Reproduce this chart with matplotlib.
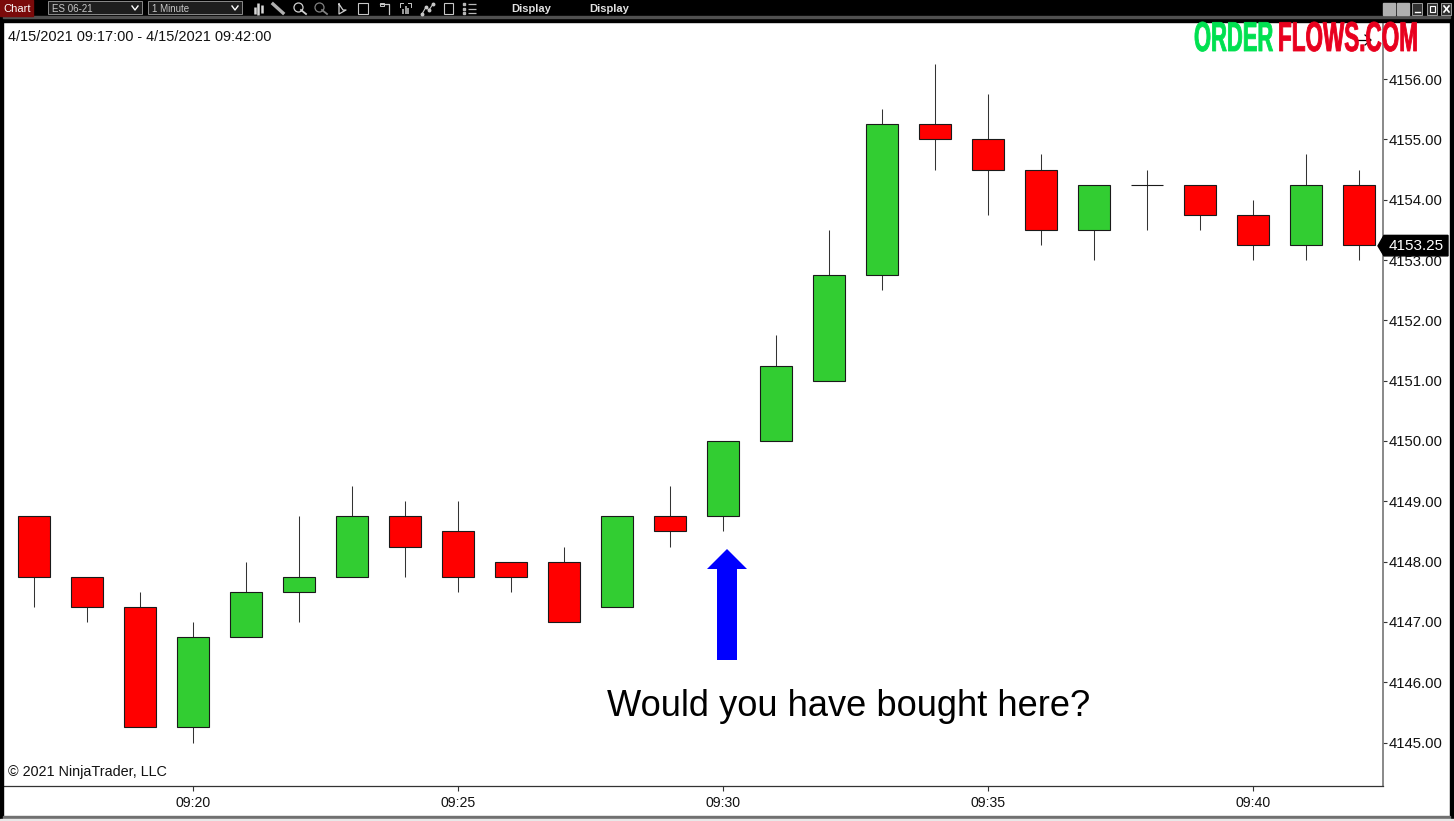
import matplotlib
matplotlib.use("Agg")
import matplotlib.pyplot as plt
import matplotlib.patheffects as pe
from matplotlib.patches import Polygon, Rectangle
from matplotlib.transforms import Affine2D

plt.rcParams["font.family"] = ["Liberation Sans", "DejaVu Sans"]

opens = [4148.75, 4147.75, 4147.25, 4145.25, 4146.75, 4147.5, 4147.75, 4148.75, 4148.5,
         4148.0, 4148.0, 4147.25, 4148.75, 4148.75, 4150.0, 4151.0, 4152.75, 4155.25,
         4155.0, 4154.5, 4153.5, 4154.25, 4154.25, 4153.75, 4153.25, 4154.25]
highs = [4148.75, 4147.75, 4147.5, 4147.0, 4148.0, 4148.75, 4149.25, 4149.0, 4149.0,
         4148.0, 4148.25, 4148.75, 4149.25, 4150.0, 4151.75, 4153.5, 4155.5, 4156.25,
         4155.75, 4154.75, 4154.25, 4154.5, 4154.25, 4154.0, 4154.75, 4154.5]
lows = [4147.25, 4147.0, 4145.25, 4145.0, 4146.75, 4147.0, 4147.75, 4147.75, 4147.5,
        4147.5, 4147.0, 4147.25, 4148.25, 4148.5, 4150.0, 4151.0, 4152.5, 4154.5,
        4153.75, 4153.25, 4153.0, 4153.5, 4153.5, 4153.0, 4153.0, 4153.0]
closes = [4147.75, 4147.25, 4145.25, 4146.75, 4147.5, 4147.75, 4148.75, 4148.25, 4147.75,
          4147.75, 4147.0, 4148.75, 4148.5, 4150.0, 4151.25, 4152.75, 4155.25, 4155.0,
          4154.5, 4153.5, 4154.25, 4154.25, 4153.75, 4153.25, 4154.25, 4153.25]

price_ticks = [4145, 4146, 4147, 4148, 4149, 4150, 4151, 4152, 4153, 4154, 4155, 4156]
time_ticks = [3, 8, 13, 18, 23]
time_labels = ["09:20", "09:25", "09:30", "09:35", "09:40"]
last_price = 4153.25

W, H = 1454, 821
GREEN = "#32CD32"
RED = "#FF0000"


class Reshape(pe.AbstractPathEffect):
    # tall narrow logo lettering, matplotlib has no condensed stretch of its own
    def __init__(self, sx, sy, x0, y0):
        super().__init__()
        self.shape = Affine2D().translate(-x0, -y0).scale(sx, sy).translate(x0, y0)

    def draw_path(self, renderer, gc, tpath, affine, rgbFace=None):
        gc.set_foreground(rgbFace)
        gc.set_linewidth(0.6)
        renderer.draw_path(gc, tpath, affine + self.shape, rgbFace)


fig = plt.figure(figsize=(W / 100, H / 100), dpi=100, facecolor="white")

# price panel, placed in pixels
ax = fig.add_axes([3 / W, 1 - 786 / H, 1380 / W, 763 / H])
ax.set_xlim(-0.585, 25.45)
ax.set_ylim(4144.28, 4156.929)

xs = list(range(len(opens)))
colors = [GREEN if c > o else RED for o, c in zip(opens, closes)]
bottoms = [min(o, c) for o, c in zip(opens, closes)]
heights = [abs(c - o) for o, c in zip(opens, closes)]
ax.vlines(xs, lows, highs, color="#333333", lw=0.75, zorder=2)
ax.bar(xs, heights, bottom=bottoms, width=0.604, color=colors, edgecolor="#1A1A1A",
       linewidth=0.8, zorder=3)

ax.yaxis.tick_right()
ax.set_yticks(price_ticks)
ax.set_yticklabels([f"{p:.2f}" for p in price_ticks], fontsize=10.7, color="#111111")
ax.set_xticks(time_ticks)
ax.set_xticklabels(time_labels, fontsize=10.2, color="#111111")
ax.tick_params(axis="y", length=3, width=0.8, pad=1.2, color="#333333")
ax.tick_params(axis="x", length=3.5, width=0.8, pad=4, color="#333333")
for side in ["left", "top"]:
    ax.spines[side].set_visible(False)
ax.spines["right"].set_color("#808080")
ax.spines["right"].set_linewidth(1.3)
ax.spines["bottom"].set_color("#333333")
ax.spines["bottom"].set_linewidth(0.9)

# overlay in pixel coordinates for the window chrome and annotations
ov = fig.add_axes([0, 0, 1, 1], facecolor="none")
ov.set_xlim(0, W)
ov.set_ylim(H, 0)
ov.axis("off")

ov.add_patch(Rectangle((0, 0), W, 22, color="black"))
ov.add_patch(Rectangle((0, 0), 3, H, color="black"))
ov.add_patch(Rectangle((1449.5, 0), 3.5, 819, color="black"))
ov.add_patch(Rectangle((3, 816.5), 1447, 2.5, color="#707070"))
ov.add_patch(Rectangle((0, 819), W, 2, color="#E8E8E8"))
ov.add_patch(Rectangle((3, 16.5), 1447, 1.5, color="#505050"))

ov.add_patch(Rectangle((0, 0), 33, 16, color="#7A0A0A"))
ov.text(3, 8.5, "Chart", color="white", fontsize=8, va="center")
for x0, label in [(48, "ES 06-21"), (148, "1 Minute")]:
    ov.add_patch(Rectangle((x0, 1.5), 94, 13, facecolor="#1E1E1E", edgecolor="#8A8A8A", lw=0.7))
    ov.text(x0 + 4, 8.5, label, color="#C8C8C8", fontsize=7, va="center")
    ov.plot([x0 + 84, x0 + 87, x0 + 90], [6, 10, 6], color="white", lw=1)
ov.text(511, 8.5, "Display", color="#E0E0E0", fontsize=8, fontweight="bold", va="center")
ov.text(589, 8.5, "Display", color="#E0E0E0", fontsize=8, fontweight="bold", va="center")

# toolbar icons, only rough shapes
ov.vlines([254.5, 258, 261.5], [7, 3, 5], [14, 15, 13], color="#D8D8D8", lw=1.8)
ov.plot([273, 283], [4, 13], color="#B0B0B0", lw=2.4)
for cx, col in [(298, "#D0D0D0"), (319, "#808080")]:
    ov.plot([cx], [7], marker="o", ms=6.5, mfc="none", mec=col, mew=0.9)
    ov.plot([cx + 3, cx + 8], [10, 14], color=col, lw=1.3)
ov.plot([339, 339, 346, 343, 339], [4, 14, 10, 10, 4], color="#D0D0D0", lw=0.9)
for x0, w in [(358, 10), (444, 9)]:
    ov.add_patch(Rectangle((x0, 3.5), w, 11, fill=False, edgecolor="#C8C8C8", lw=0.8))
ov.plot([380, 389, 389], [4, 4, 14], color="#C8C8C8", lw=0.9)
ov.add_patch(Rectangle((380, 3), 4, 3, fill=False, edgecolor="#C8C8C8", lw=0.7))
ov.vlines([403, 405.5, 408], [9, 6, 8], 14, color="#C8C8C8", lw=1.1)
ov.plot([400, 400, 403], [7, 3.5, 3.5], color="#C8C8C8", lw=0.7)
ov.plot([408, 411, 411], [3.5, 3.5, 7], color="#C8C8C8", lw=0.7)
ov.plot([422, 426, 429, 433], [14, 7, 10, 4], color="#C8C8C8", lw=0.8, marker="o", ms=1.8)
ov.hlines([4.5, 9, 13.5], 468, 476, color="#B8B8B8", lw=0.9)
ov.plot([464, 464, 464], [4.5, 9, 13.5], ls="none", marker="s", ms=2, color="#B8B8B8")

for x0, col in [(1383, "#B0B0B0"), (1397, "#B0B0B0")]:
    ov.add_patch(Rectangle((x0, 3), 12, 12, color=col))
for x0 in [1412, 1427, 1441]:
    ov.add_patch(Rectangle((x0, 3), 10, 12, facecolor="#303030", edgecolor="#B0B0B0", lw=0.6))
ov.plot([1415, 1420], [12, 12], color="white", lw=1)
ov.add_patch(Rectangle((1430, 6), 5, 6, fill=False, edgecolor="white", lw=0.8))
ov.plot([1444, 1449], [6, 12], color="white", lw=1.2)
ov.plot([1444, 1449], [12, 6], color="white", lw=1.2)

ov.text(8, 37, "4/15/2021 09:17:00 - 4/15/2021 09:42:00", fontsize=10.45, color="#111111", va="center")
ov.text(8, 772, "\u00a9 2021 NinjaTrader, LLC", fontsize=10.4, color="#111111", va="center")

# logo, drawn small and stretched so each text keeps its own room
ov.text(1273, 51, "ORDER", color="#00E050", fontsize=20, fontweight="bold", va="baseline", ha="right",
        path_effects=[Reshape(0.79, 1.5, 1273, H - 51)])
ov.text(1278, 51, "FLOWS.COM", color="#E8001E", fontsize=20, fontweight="bold", va="baseline",
        path_effects=[Reshape(0.81, 1.5, 1278, H - 51)])
ov.plot([1357, 1370], [40, 40], color="black", lw=0.9)
ov.plot([1365, 1371, 1365], [35, 40, 45], color="black", lw=0.9)

# last price marker
y_last = 80 + (4156 - last_price) * 60.32
ov.add_patch(Polygon([(1378, y_last), (1384, y_last - 10.5), (1448, y_last - 10.5),
                      (1448, y_last + 10), (1384, y_last + 10)], color="black"))
ov.text(1388.5, y_last, f"{last_price:.2f}", color="white", fontsize=11, va="center")

# buy arrow
ov.add_patch(Polygon([(727, 549), (747, 569), (737, 569), (737, 660), (717, 660), (717, 569), (707, 569)],
                     color="#0000FF", lw=0))
ov.text(607, 716, "Would you have bought here?", fontsize=26.1, color="black", va="baseline")

fig.savefig("out.png", dpi=100)
